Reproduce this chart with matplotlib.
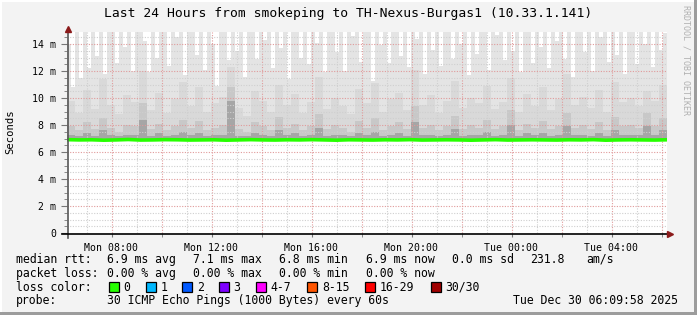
import matplotlib
matplotlib.use("Agg")
import numpy as np
import matplotlib.pyplot as plt
from matplotlib.patches import Rectangle

# time window (hours since Mon 00:00)
t_start = 6.22
t_end = 30.22

# smoke: top of the light band (ms), 150 columns over 24h
light_top = [
    14.0, 10.8, 14.9, 11.5, 15, 12.2, 15, 13.1, 15, 11.8, 15, 15, 12.6, 15, 13.8,
    15, 12.0, 15, 15, 14.2, 11.9, 15, 13.0, 15, 15, 12.4, 15, 14.5, 15, 11.7,
    15, 15, 13.2, 15, 12.1, 15, 14.0, 10.9, 15, 15, 12.8, 15, 13.5, 15, 11.6,
    15, 15, 12.9, 15, 14.3, 15, 12.2, 15, 13.7, 15, 11.4, 15, 15, 13.0, 15,
    12.5, 15, 14.1, 15, 11.9, 15, 15, 13.4, 15, 12.0, 15, 14.6, 15, 12.7, 15,
    15, 11.3, 15, 13.9, 15, 12.6, 15, 15, 13.1, 15, 12.3, 15, 14.4, 15, 11.8,
    15, 13.6, 15, 12.4, 15, 15, 12.9, 15, 14.0, 15, 11.7, 15, 13.3, 15, 15,
    12.1, 15, 14.7, 15, 12.8, 15, 13.5, 15, 11.9, 15, 15, 12.6, 15, 13.8, 15,
    12.2, 15, 14.2, 15, 12.9, 15, 11.6, 15, 15, 13.4, 15, 12.0, 15, 14.5, 15,
    12.7, 15, 13.2, 15, 11.8, 15, 15, 12.5, 15, 14.0, 15, 12.3, 15, 13.6, 14.8,
]
# middle band (ms), 75 columns
mid_top = [
    9.8, 8.9, 10.6, 9.2, 11.4, 9.5, 8.8, 10.2, 9.7, 12.0, 9.1, 10.4, 8.9, 9.9, 11.2,
    9.4, 10.8, 9.0, 9.6, 10.1, 12.3, 9.3, 8.7, 10.5, 9.8, 9.0, 11.0, 9.5, 10.3, 8.9,
    9.7, 11.6, 9.2, 10.0, 9.4, 8.8, 10.7, 9.6, 11.1, 9.0, 9.9, 10.4, 9.1, 12.1, 9.5,
    10.2, 8.9, 9.8, 11.3, 9.3, 10.0, 9.6, 10.9, 9.2, 9.7, 11.5, 9.0, 10.3, 9.4, 10.8,
    9.1, 9.9, 11.8, 9.5, 10.1, 9.3, 10.6, 9.0, 11.2, 9.7, 10.0, 9.4, 10.5, 9.8, 11.0,
]
# dark band near the median (ms), 75 columns
dark_top = [
    7.9, 7.6, 8.2, 7.7, 8.5, 7.8, 7.5, 8.0, 7.9, 9.6, 7.7, 8.1, 7.6, 7.9, 8.4,
    7.8, 8.3, 7.6, 7.8, 8.0, 10.8, 7.7, 7.5, 8.2, 7.9, 7.6, 8.6, 7.8, 8.1, 7.6,
    7.9, 8.8, 7.7, 8.0, 7.8, 7.5, 8.3, 7.8, 8.5, 7.6, 7.9, 8.2, 7.7, 9.4, 7.8,
    8.0, 7.6, 7.9, 8.7, 7.7, 8.0, 7.8, 8.4, 7.7, 7.9, 9.1, 7.6, 8.1, 7.8, 8.3,
    7.7, 7.9, 8.9, 7.8, 8.0, 7.7, 8.2, 7.6, 8.6, 7.9, 8.0, 7.8, 8.9, 7.9, 8.5,
]
# darkest streaks right above the median (ms), 75 columns
core_top = [
    7.3, 7.2, 7.4, 7.2, 7.6, 7.3, 7.2, 7.3, 7.3, 8.4, 7.2, 7.4, 7.2, 7.3, 7.5,
    7.3, 7.4, 7.2, 7.3, 7.3, 9.8, 7.2, 7.2, 7.4, 7.3, 7.2, 7.6, 7.3, 7.4, 7.2,
    7.3, 7.8, 7.2, 7.3, 7.3, 7.2, 7.4, 7.3, 7.5, 7.2, 7.3, 7.4, 7.2, 8.2, 7.3,
    7.3, 7.2, 7.3, 7.7, 7.2, 7.3, 7.3, 7.5, 7.2, 7.3, 8.0, 7.2, 7.4, 7.3, 7.4,
    7.2, 7.3, 7.9, 7.3, 7.3, 7.2, 7.4, 7.2, 7.6, 7.3, 7.3, 7.3, 7.9, 7.3, 7.6,
]
# median rtt (ms), 50 points
median = [
    6.92, 6.90, 6.91, 6.88, 6.90, 6.93, 6.89, 6.90, 6.92, 6.91, 6.89, 6.90, 6.91,
    6.88, 6.90, 6.92, 6.90, 6.89, 6.91, 6.90, 6.92, 6.90, 6.88, 6.91, 6.90, 6.89,
    6.91, 6.90, 6.92, 6.89, 6.90, 6.91, 6.90, 6.88, 6.90, 6.92, 6.89, 6.90, 6.91,
    6.90, 6.89, 6.91, 6.90, 6.92, 6.88, 6.90, 6.91, 6.90, 6.89, 6.91,
]

x_labels = ["Mon 08:00", "Mon 12:00", "Mon 16:00", "Mon 20:00", "Tue 00:00", "Tue 04:00"]
x_label_hours = [8, 12, 16, 20, 24, 28]

loss_labels = ["0", "1", "2", "3", "4-7", "8-15", "16-29", "30/30"]
loss_colors = ["#26ff00", "#00b8ff", "#0059ff", "#7e00ff", "#ff00ff", "#ff5500", "#ff0000", "#a00000"]
loss_x = [108.7, 145.7, 182.3, 219, 256, 307.3, 365.3, 430.7]

W, H = 697, 315
BG = "#f3f3f3"
MONO = "DejaVu Sans Mono"


def fx(px):
    return px / W


def fy(py):
    return 1 - py / H


fig = plt.figure(figsize=(W / 100, H / 100), dpi=100, facecolor=BG)
ax = fig.add_axes([fx(67), fy(233), 600 / W, 201 / H])
ax.set_facecolor("white")

base = 6.9


def smoke(vals, color):
    n = len(vals)
    w = (t_end - t_start) / n
    xs = t_start + (np.arange(n) + 0.5) * w
    ax.bar(xs, np.array(vals) - base, bottom=base, width=w, color=color,
           linewidth=0, zorder=1)


smoke(light_top, "#e4e4e4")
smoke(mid_top, "#d9d9d9")
smoke(dark_top, "#c8c8c8")
smoke(core_top, "#a6a6a6")

tm = np.linspace(t_start, t_end, len(median))
ax.plot(tm, median, color="#26ff00", lw=2.6, zorder=4, solid_capstyle="butt")

ax.set_xlim(t_start, t_end)
ax.set_ylim(0, 14.9)

# grid
for h in np.arange(7, 31, 1):
    major = h % 2 == 0
    ax.axvline(h, color="#e09a9a" if major else "#cfcfcf", lw=0.8,
               ls=(0, (1, 1.4)), zorder=2)
for v in np.arange(0.5, 15, 0.5):
    major = abs(v % 2) < 1e-6
    ax.axhline(v, color="#e09a9a" if major else "#cfcfcf", lw=0.8,
               ls=(0, (1, 1.4)), zorder=2)

for s in ax.spines.values():
    s.set_visible(False)
ax.set_xticks(x_label_hours)
ax.set_xticklabels(x_labels, fontfamily=MONO, fontsize=7.1)
ax.set_xticks(np.arange(8, 31, 2), minor=True)
ax.tick_params(axis="x", which="both", length=3, color="#777777", pad=4)
yt = np.arange(0, 15, 2)
ax.set_yticks(yt)
ax.set_yticklabels(["0"] + [f"{v} m" for v in yt[1:]], fontfamily=MONO, fontsize=7.1)
ax.set_yticks(np.arange(0, 15, 0.5), minor=True)
ax.tick_params(axis="y", which="major", length=4, color="#777777", pad=4)
ax.tick_params(axis="y", which="minor", length=2, color="#777777")

# axes with arrows
fig.add_artist(plt.Line2D([fx(67.5), fx(67.5)], [fy(238), fy(30)], color="#555555", lw=1.2))
fig.add_artist(plt.Line2D([fx(62), fx(668)], [fy(233.5), fy(233.5)], color="black", lw=1.2))
fig.add_artist(plt.Line2D([fx(67.5)], [fy(28.5)], marker="^", color="#8b1a1a", markersize=5, lw=0))
fig.add_artist(plt.Line2D([fx(670)], [fy(233.5)], marker=">", color="#8b1a1a", markersize=5, lw=0))

fig.text(fx(10), fy(132), "Seconds", rotation=90, ha="center", va="center",
         fontfamily=MONO, fontsize=7.6)
fig.text(fx(348), fy(13), "Last 24 Hours from smokeping to TH-Nexus-Burgas1 (10.33.1.141)",
         ha="center", va="center", fontfamily=MONO, fontsize=9.4)
fig.text(fx(686), fy(60), "RRDTOOL / TOBI OETIKER", rotation=270, ha="center", va="center",
         fontfamily=MONO, fontsize=6, color="#b0b0b0")

fs = 8.3
rows = [
    (259.3, [(16.3, "median rtt:"), (106.7, "6.9 ms avg"), (193.3, "7.1 ms max"),
             (279.3, "6.8 ms min"), (365.7, "6.9 ms now"), (451.7, "0.0 ms sd"),
             (530, "231.8"), (586.3, "am/s")]),
    (273.3, [(16.3, "packet loss:"), (107.3, "0.00 % avg"), (193.3, "0.00 % max"),
             (279.3, "0.00 % min"), (365.7, "0.00 % now")]),
    (287.3, [(16.3, "loss color:")]),
    (300.7, [(16.3, "probe:"), (106.7, "30 ICMP Echo Pings (1000 Bytes) every 60s"),
             (513.3, "Tue Dec 30 06:09:58 2025")]),
]
for yy, items in rows:
    for xx, txt in items:
        fig.text(fx(xx), fy(yy), txt, ha="left", va="center", fontfamily=MONO, fontsize=fs)

for xb, lab, col in zip(loss_x, loss_labels, loss_colors):
    fig.add_artist(Rectangle((fx(xb), fy(292)), 10 / W, 10 / H, facecolor=col,
                             edgecolor="black", lw=0.9))
    fig.text(fx(xb + 14.5), fy(287.3), lab, ha="left", va="center", fontfamily=MONO, fontsize=fs)

# 3d-ish frame
fig.add_artist(Rectangle((0, fy(315)), 2 / W, 1, facecolor="white", lw=0))
fig.add_artist(Rectangle((0, fy(2)), 1, 2 / H, facecolor="white", lw=0))
fig.add_artist(Rectangle((fx(694), 0), 3 / W, 1, facecolor="#9c9c9c", lw=0))
fig.add_artist(Rectangle((0, 0), 1, 3 / H, facecolor="#9c9c9c", lw=0))

fig.savefig("out.png", dpi=100, facecolor=BG)
